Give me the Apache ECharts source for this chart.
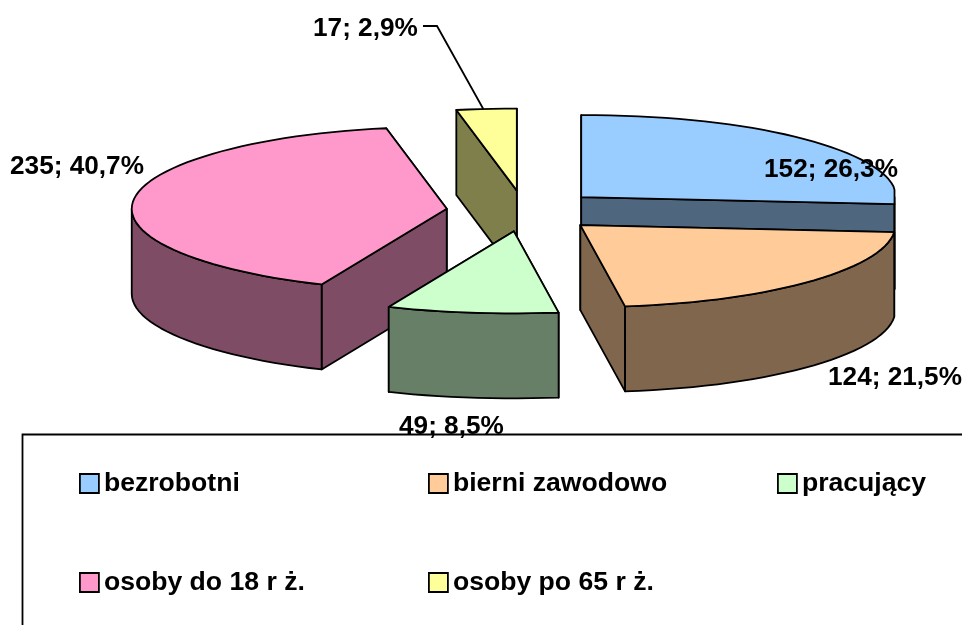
<!DOCTYPE html>
<html>
<head>
<meta charset="utf-8">
<title>chart</title>
<script src="https://cdn.jsdelivr.net/npm/echarts@6/dist/echarts.min.js"></script>
<style>
  html, body { margin: 0; padding: 0; background: #fff; overflow: hidden; }
  #main { width: 962px; height: 625px; }
</style>
</head>
<body>
<div id="main"></div>
<script>
// dane
const categories = ['bezrobotni', 'bierni zawodowo', 'pracujący', 'osoby do 18 r ż.', 'osoby po 65 r ż.']
const counts = [152, 124, 49, 235, 17]
const percents = ['26,3', '21,5', '8,5', '40,7', '2,9']
const topColors = ['#99CCFF', '#FFCC99', '#CCFFCC', '#FF99CC', '#FFFF99']
const sideColors = ['#4F667F', '#7F664C', '#667F66', '#7F4C66', '#7F7F4C']

// uklad: srodek, polosie elipsy, grubosc, wysuniecie
const pie = { cx: 524, cy: 211, a: 315, b: 82, depth: 85, explodeX: 77.7, explodeY: 20.5, right: 894.5, warp: 0.05 }
const drawOrder = [4, 3, 0, 1, 2]
const labelPos = [[764, 170], [828, 378], [399, 427], [10, 167], [313, 29]]
const legendPos = [[79, 470], [428, 470], [777, 470], [79, 569], [428, 569]]
const fontFamily = '"Liberation Sans", Arial, sans-serif'

const total = counts.reduce((s, v) => s + v, 0)

function sliceAngles (idx) {
  let start = 0
  for (let i = 0; i < idx; i++) start += counts[i] / total * 360
  return [start, start + counts[idx] / total * 360]
}

function renderSlice (idx) {
  return function (params, api) {
    const rad = Math.PI / 180
    const [a0, a1] = sliceAngles(idx)
    const mid = (a0 + a1) / 2 * rad
    const ax = pie.cx + pie.explodeX * Math.sin(mid)
    const ay = pie.cy - pie.explodeY * Math.cos(mid)
    const pt = (deg, dy) => {
      const s = Math.sin(deg * rad)
      const c = Math.cos(deg * rad)
      // w oryginale wycinki blisko pionu sa lekko szersze
      const x = ax + pie.a * s * (1 + pie.warp * Math.pow(c, 8))
      return [Math.min(x, pie.right), ay - pie.b * c + (dy || 0)]
    }
    const arc = (from, to, dy) => {
      const out = []
      const n = Math.max(2, Math.ceil((to - from) / 2.5))
      for (let i = 0; i <= n; i++) out.push(pt(from + (to - from) * i / n, dy))
      return out
    }
    const lineStyle = { stroke: '#000', lineWidth: 1.8, lineJoin: 'round' }
    const poly = (points, fill) => ({
      type: 'polygon',
      shape: { points: points },
      style: Object.assign({ fill: fill }, lineStyle)
    })

    const children = []
    // sciany ciecia, najpierw tylna
    const faces = [a0, a1].sort((p, q) => pt(p)[1] - pt(q)[1])
    faces.forEach(deg => {
      const e = pt(deg)
      children.push(poly([[ax, ay], e, [e[0], e[1] + pie.depth], [ax, ay + pie.depth]], sideColors[idx]))
    })
    // sciana zewnetrzna, tylko przednia polowa
    const from = Math.max(a0, 90)
    const to = Math.min(a1, 270)
    if (to > from) {
      children.push(poly(arc(from, to, 0).concat(arc(from, to, pie.depth).reverse()), sideColors[idx]))
    }
    // wierzch
    children.push(poly([[ax, ay]].concat(arc(a0, a1, 0)), topColors[idx]))

    // opis
    children.push({
      type: 'text',
      z2: 20,
      style: {
        x: labelPos[idx][0],
        y: labelPos[idx][1],
        text: api.value(0) + '; ' + percents[idx] + '%',
        fill: '#000',
        font: 'bold 26.2px ' + fontFamily,
        verticalAlign: 'middle'
      }
    })
    // linia odniesienia dla najmniejszego wycinka
    if (idx === 4) {
      const end = pt((a0 + a1) / 2)
      children.push({
        type: 'polyline',
        shape: { points: [[423, 26], [437, 26], [end[0] - 3, end[1]]] },
        style: { stroke: '#000', lineWidth: 1.8, fill: null }
      })
    }
    return { type: 'group', children: children }
  }
}

const myChart = echarts.init(document.getElementById('main'), null, { renderer: 'canvas' })

myChart.setOption({
  backgroundColor: '#fff',
  animation: false,
  tooltip: { show: false },
  graphic: [{
    type: 'rect',
    z: -1,
    silent: true,
    shape: { x: 22.5, y: 434.5, width: 1000, height: 300 },
    style: { fill: '#fff', stroke: '#000', lineWidth: 1.8 }
  }],
  legend: categories.map((name, i) => ({
    data: [name],
    left: legendPos[i][0],
    top: legendPos[i][1],
    padding: 0,
    icon: 'rect',
    itemWidth: 19,
    itemHeight: 19,
    selectedMode: false,
    itemStyle: { borderColor: '#000', borderWidth: 1.8 },
    textStyle: { color: '#000', fontFamily: fontFamily, fontWeight: 'bold', fontSize: 26.6 }
  })),
  series: categories.map((name, i) => ({
    type: 'custom',
    name: name,
    coordinateSystem: 'none',
    z: 2 + drawOrder.indexOf(i),
    silent: true,
    itemStyle: { color: topColors[i] },
    data: [[counts[i]]],
    renderItem: renderSlice(i)
  }))
})
</script>
</body>
</html>
